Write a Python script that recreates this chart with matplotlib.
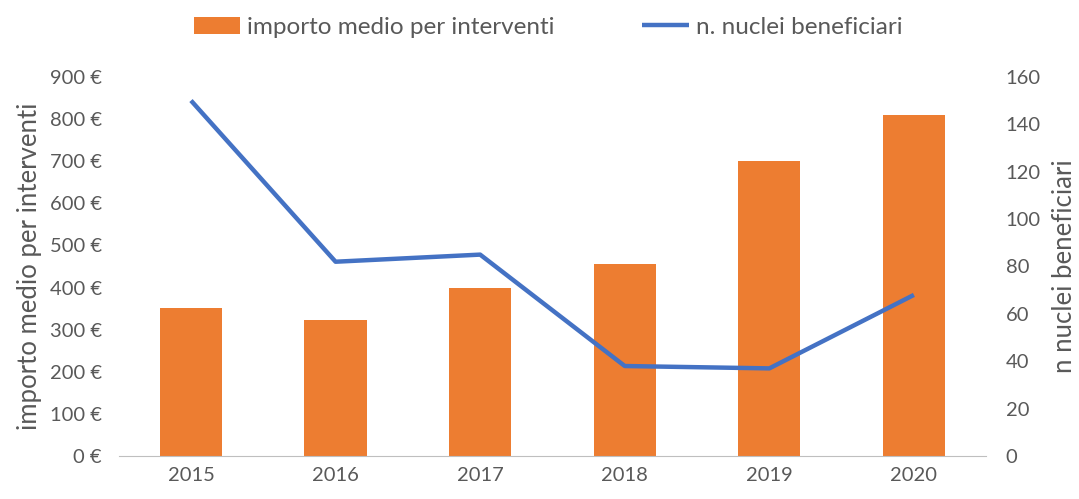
import matplotlib
matplotlib.use("Agg")
import matplotlib.pyplot as plt
from matplotlib.ticker import FuncFormatter, MultipleLocator

years = ["2015", "2016", "2017", "2018", "2019", "2020"]
importo = [352, 322, 399, 456, 700, 809]
nuclei = [150, 82, 85, 38, 37, 68]

plt.rcParams['font.family'] = ['Lato', 'DejaVu Sans']
txt = '#595959'

fig = plt.figure(figsize=(10.79, 4.99), dpi=100)
ax = fig.add_axes([0.110, 0.086, 0.804, 0.760])
x = list(range(len(years)))
bars = ax.bar(x, importo, width=0.43, color='#ED7D31', label='importo medio per interventi', zorder=2)
ax.set_ylim(0, 900)
ax.set_xlim(-0.5, 5.5)
ax.yaxis.set_major_locator(MultipleLocator(100))
ax.yaxis.set_major_formatter(FuncFormatter(lambda v, p: f"{int(v)} €"))
ax.set_xticks(x)
ax.set_xticklabels(years)
for s in ['top', 'right', 'left']:
    ax.spines[s].set_visible(False)
ax.spines['bottom'].set_color('#BFBFBF')
ax.tick_params(axis='both', length=0, colors=txt, labelsize=14.5)
ax.tick_params(axis='y', pad=12)
ax.tick_params(axis='x', pad=8)
ax.set_ylabel('importo medio per interventi', color=txt, fontsize=18.5, labelpad=6)

ax2 = ax.twinx()
line, = ax2.plot(x, nuclei, color='#4472C4', lw=3.2, label='n. nuclei beneficiari', zorder=3, solid_capstyle='butt')
ax2.set_ylim(0, 160)
ax2.yaxis.set_major_locator(MultipleLocator(20))
for s in ['top', 'right', 'left', 'bottom']:
    ax2.spines[s].set_visible(False)
ax2.tick_params(axis='y', length=0, colors=txt, labelsize=14.5, pad=14)
ax2.set_ylabel('n nuclei beneficiari', color=txt, fontsize=18.5, labelpad=8)

fig.legend([bars, line], ['importo medio per interventi', 'n. nuclei beneficiari'],
           loc='upper center', bbox_to_anchor=(0.508, 1.01), ncol=2, frameon=False,
           fontsize=17.5, labelcolor=txt, handlelength=1.9, handletextpad=0.3, columnspacing=3.6)
fig.savefig('out.png', dpi=100)
